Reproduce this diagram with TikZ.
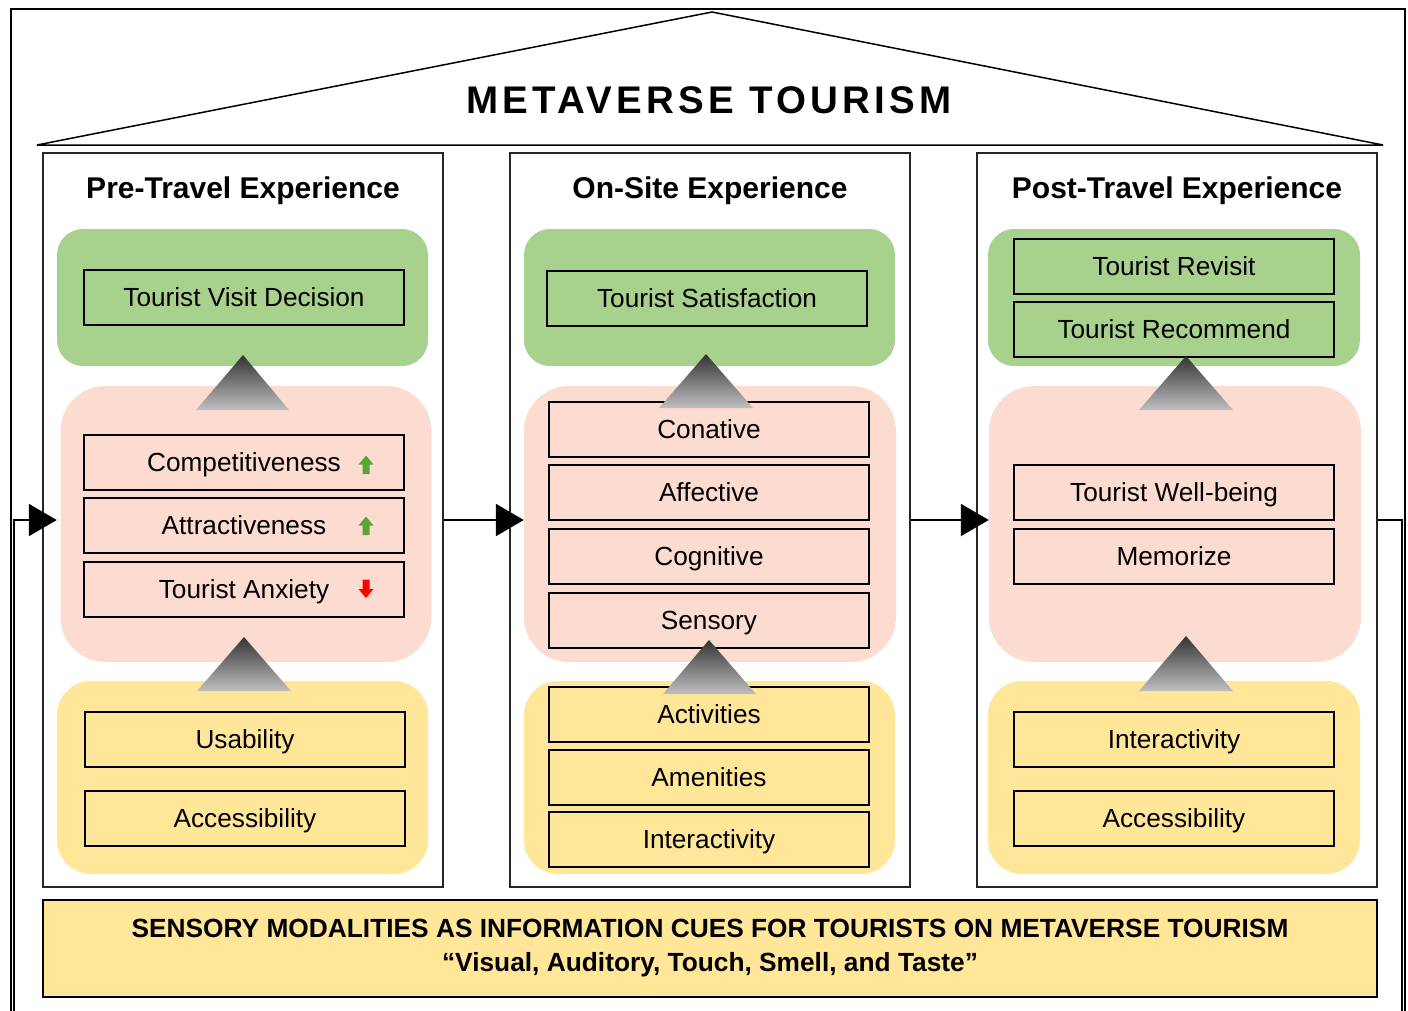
\documentclass[tikz,border=0pt]{standalone}
\usepackage{fontspec}
\setmainfont{Liberation Sans}
\usetikzlibrary{arrows.meta,positioning,calc}

\definecolor{bandgreen}{HTML}{A9D18E}
\definecolor{bandpink}{HTML}{FCDCD0}
\definecolor{bandyellow}{HTML}{FFE699}
\definecolor{trendgreen}{HTML}{5BA535}
\definecolor{trendred}{HTML}{FF0000}

\tikzset{
  item/.style={draw, line width=2pt, minimum width=320pt, minimum height=55pt, inner sep=0pt,
    text height=18.8pt, text depth=0pt, font=\fontsize{26.2}{30}\selectfont},
  column/.style={draw=black!85, line width=1.5pt, minimum width=400pt, minimum height=734pt, inner sep=0pt},
  band/.style={inner sep=0pt, minimum width=371pt},
  heading/.style={font=\bfseries\fontsize{30}{34}\selectfont},
  pyramid/.style={top color=black!80, bottom color=black!25},
  flow/.style={line width=2pt, -{Triangle[width=32pt,length=28pt]}},
}

% small block arrows beside the items
\newcommand{\trendup}[1]{\fill[trendgreen] ($(#1)+(-7.5,0)$) -- ++(7.5,-9) -- ++(7.5,9) -- ++(-4,0) -- ++(0,9.5) -- ++(-7,0) -- ++(0,-9.5) -- cycle;}
\newcommand{\trenddown}[1]{\fill[trendred] ($(#1)+(-7.5,0)$) -- ++(7.5,9) -- ++(7.5,-9) -- ++(-4,0) -- ++(0,-9.5) -- ++(-7,0) -- ++(0,9.5) -- cycle;}

\begin{document}
\begin{tikzpicture}[x=1pt, y=-1pt]
  \useasboundingbox (0,0) rectangle (1408,1010);

  % Frame and roof
  \draw[line width=1.5pt] (11,1012) -- (11,9) -- (1405,9) -- (1405,1012);
  \draw[line width=1.5pt] (37,145) -- (712,12) -- (1383,145) -- cycle;
  \node[font=\bfseries\fontsize{38.5}{44}\selectfont\addfontfeature{LetterSpace=11}] (title) at (709,100) {METAVERSE TOURISM};

  % Columns
  \node[column] (precol) at (243,520) {};
  \node[column] (oncol) at (710,520) {};
  \node[column] (postcol) at (1177,520) {};
  \node[heading] (prehead) at (243,191) {Pre-Travel Experience};
  \node[heading] (onhead) at (710,191) {On-Site Experience};
  \node[heading] (posthead) at (1177,191) {Post-Travel Experience};

  % Coloured bands
  \node[band, fill=bandgreen, rounded corners=26pt, minimum height=137pt] (pregreen) at (242.5,297.5) {};
  \node[band, fill=bandpink, rounded corners=45pt, minimum height=276pt] (prepink) at (246,524) {};
  \node[band, fill=bandyellow, rounded corners=34pt, minimum height=193pt] (preyellow) at (242.5,777.5) {};
  \node[band, fill=bandgreen, rounded corners=26pt, minimum height=137pt] (ongreen) at (709.5,297.5) {};
  \node[band, fill=bandpink, rounded corners=45pt, minimum height=276pt, minimum width=372pt] (onpink) at (710,524) {};
  \node[band, fill=bandyellow, rounded corners=34pt, minimum height=193pt] (onyellow) at (709.5,777.5) {};
  \node[band, fill=bandgreen, rounded corners=26pt, minimum height=137pt, minimum width=372pt] (postgreen) at (1174,297.5) {};
  \node[band, fill=bandpink, rounded corners=45pt, minimum height=276pt, minimum width=372pt] (postpink) at (1175,524) {};
  \node[band, fill=bandyellow, rounded corners=34pt, minimum height=193pt, minimum width=372pt] (postyellow) at (1174,777.5) {};

  % Pre-travel items
  \node[item] (visit) at (244,297.5) {Tourist Visit Decision};
  \node[item] (compet) at (244,462.5) {Competitiveness};
  \node[item] (attract) at (244,525.5) {Attractiveness};
  \node[item] (anxiety) at (244,589) {Tourist Anxiety};
  \node[item] (usab) at (245,739) {Usability};
  \node[item] (preacc) at (245,818) {Accessibility};
  \trendup{$(compet.east)+(-39,2)$}
  \trendup{$(attract.east)+(-39,0)$}
  \trenddown{$(anxiety.east)+(-39,0)$}

  % On-site items
  \node[item] (satis) at (707,298.5) {Tourist Satisfaction};
  \node[item] (conat) at (709,429.5) {Conative};
  \node[item] (affect) at (709,492.5) {Affective};
  \node[item] (cognit) at (709,556.5) {Cognitive};
  \node[item] (sensor) at (709,620.5) {Sensory};
  \node[item] (activ) at (709,714.5) {Activities};
  \node[item] (ameni) at (709,777.5) {Amenities};
  \node[item] (oninter) at (709,839.5) {Interactivity};

  % Post-travel items
  \node[item] (revisit) at (1174,266.5) {Tourist Revisit};
  \node[item] (recomm) at (1174,329.5) {Tourist Recommend};
  \node[item] (wellb) at (1174,492.5) {Tourist Well-being};
  \node[item] (memor) at (1174,556.5) {Memorize};
  \node[item] (postinter) at (1174,739) {Interactivity};
  \node[item] (postacc) at (1174,818) {Accessibility};

  % Shaded pyramids between bands
  \shade[pyramid] (196,410) -- (243,355) -- (289,410) -- cycle;
  \shade[pyramid] (197,691) -- (244,637) -- (291,691) -- cycle;
  \shade[pyramid] (659,408) -- (706,354) -- (753,408) -- cycle;
  \shade[pyramid] (663,694) -- (709,640) -- (756,694) -- cycle;
  \shade[pyramid] (1139,410) -- (1186,356) -- (1233,410) -- cycle;
  \shade[pyramid] (1139,691) -- (1186,636) -- (1233,691) -- cycle;

  % Flow between stages
  \draw[flow] (precol.east) -- (precol.east -| onpink.west);
  \draw[flow] (oncol.east) -- (oncol.east -| postpink.west);
  \coordinate (loopR) at (1402,520);
  \coordinate (loopRB) at (1402,1012);
  \coordinate (loopLB) at (14,1012);
  \coordinate (loopL) at (14,520);
  \draw[line width=2pt] (postcol.east) -- (loopR) -- (loopRB);
  \draw[flow] (loopLB) -- (loopL) -- (loopL -| pregreen.west);

  % Bottom banner
  \node[draw, line width=2pt, fill=bandyellow, minimum width=1334pt, minimum height=97pt, inner sep=0pt,
    align=center, font=\bfseries\fontsize{26.3}{33.5}\selectfont] (banner) at (710,948)
    {SENSORY MODALITIES AS INFORMATION CUES FOR TOURISTS ON METAVERSE TOURISM\\
     “Visual, Auditory, Touch, Smell, and Taste”};
\end{tikzpicture}
\end{document}
